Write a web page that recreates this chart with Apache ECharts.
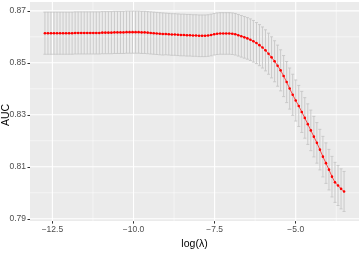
<!DOCTYPE html>
<html><head><meta charset="utf-8">
<script src="https://cdn.jsdelivr.net/npm/echarts@6/dist/echarts.min.js"></script>
<style>html,body{margin:0;padding:0;background:#fff}#c{width:363px;height:255px}</style>
</head><body><div id="c"></div>
<script>
const logLambda = [-12.730,-12.637,-12.544,-12.451,-12.357,-12.264,-12.171,-12.078,-11.985,-11.892,
-11.799,-11.706,-11.612,-11.519,-11.426,-11.333,-11.240,-11.147,-11.054,-10.961,
-10.867,-10.774,-10.681,-10.588,-10.495,-10.402,-10.309,-10.215,-10.122,-10.029,
-9.936,-9.843,-9.750,-9.657,-9.564,-9.470,-9.377,-9.284,-9.191,-9.098,
-9.005,-8.912,-8.819,-8.725,-8.632,-8.539,-8.446,-8.353,-8.260,-8.167,
-8.074,-7.980,-7.887,-7.794,-7.701,-7.608,-7.515,-7.422,-7.328,-7.235,
-7.142,-7.049,-6.956,-6.863,-6.770,-6.677,-6.583,-6.490,-6.397,-6.304,
-6.211,-6.118,-6.025,-5.932,-5.838,-5.745,-5.652,-5.559,-5.466,-5.373,
-5.280,-5.187,-5.093,-5.000,-4.907,-4.814,-4.721,-4.628,-4.535,-4.441,
-4.348,-4.255,-4.162,-4.069,-3.976,-3.883,-3.790,-3.696,-3.603,-3.510];
const meanAUC = [0.8614,0.8614,0.8614,0.8614,0.8614,0.8614,0.8614,0.8614,0.8614,0.8614,
0.8615,0.8615,0.8615,0.8615,0.8615,0.8615,0.8615,0.8615,0.8615,0.8616,
0.8616,0.8616,0.8616,0.8617,0.8617,0.8617,0.8617,0.8618,0.8618,0.8618,
0.8618,0.8618,0.8617,0.8617,0.8616,0.8615,0.8614,0.8613,0.8612,0.8611,
0.8611,0.8610,0.8609,0.8609,0.8608,0.8607,0.8607,0.8606,0.8606,0.8605,
0.8605,0.8604,0.8604,0.8604,0.8605,0.8607,0.8610,0.8612,0.8613,0.8613,
0.8613,0.8613,0.8612,0.8610,0.8606,0.8602,0.8598,0.8594,0.8589,0.8583,
0.8576,0.8568,0.8559,0.8548,0.8535,0.8521,0.8506,0.8489,0.8471,0.8449,
0.8426,0.8401,0.8377,0.8355,0.8334,0.8311,0.8288,0.8264,0.8240,0.8216,
0.8192,0.8166,0.8139,0.8114,0.8089,0.8062,0.8040,0.8028,0.8015,0.8005];
const seAUC = [0.0081,0.0081,0.0081,0.0081,0.0081,0.0081,0.0081,0.0081,0.0081,0.0081,
0.0081,0.0081,0.0081,0.0081,0.0081,0.0081,0.0081,0.0081,0.0081,0.0081,
0.0081,0.0081,0.0081,0.0081,0.0081,0.0081,0.0081,0.0081,0.0081,0.0081,
0.0081,0.0081,0.0081,0.0081,0.0081,0.0081,0.0081,0.0081,0.0081,0.0081,
0.0080,0.0080,0.0080,0.0080,0.0080,0.0080,0.0080,0.0080,0.0080,0.0080,
0.0080,0.0080,0.0080,0.0080,0.0080,0.0080,0.0080,0.0080,0.0080,0.0080,
0.0080,0.0080,0.0080,0.0080,0.0080,0.0080,0.0080,0.0080,0.0080,0.0080,
0.0079,0.0079,0.0079,0.0079,0.0079,0.0079,0.0079,0.0079,0.0079,0.0079,
0.0079,0.0079,0.0079,0.0079,0.0079,0.0079,0.0078,0.0078,0.0078,0.0078,
0.0078,0.0078,0.0078,0.0078,0.0078,0.0078,0.0077,0.0077,0.0077,0.0077];
const xTicks = [-12.5, -10.0, -7.5, -5.0];
const xTickLabels = ['\u221212.5', '\u221210.0', '\u22127.5', '\u22125.0'];
const xMinor = [-11.25, -8.75, -6.25, -3.75];
const yTicks = [0.79, 0.81, 0.83, 0.85, 0.87];
const yTickLabels = ['0.79', '0.81', '0.83', '0.85', '0.87'];
const yMinor = [0.80, 0.82, 0.84, 0.86];
const xTitle = 'log(\u03bb)';
const yTitle = 'AUC';

const X_MIN = -13.19, X_MAX = -3.05, Y_MIN = 0.7891, Y_MAX = 0.8734;

const gridLines = [];
xMinor.forEach(v => gridLines.push([0, v, 0]));
yMinor.forEach(v => gridLines.push([1, v, 0]));
xTicks.forEach(v => gridLines.push([0, v, 1]));
yTicks.forEach(v => gridLines.push([1, v, 1]));

const errData = logLambda.map((x, i) => [x, meanAUC[i] - seAUC[i], meanAUC[i] + seAUC[i]]);
const meanData = logLambda.map((x, i) => [x, meanAUC[i]]);

const chart = echarts.init(document.getElementById('c'), null, {renderer: 'canvas'});
const lblX = {};
xTicks.forEach((v, i) => lblX[v.toFixed(2)] = xTickLabels[i]);
const lblY = {};
yTicks.forEach((v, i) => lblY[v.toFixed(2)] = yTickLabels[i]);

chart.setOption({
  animation: false,
  backgroundColor: '#ffffff',
  textStyle: {fontFamily: 'Liberation Sans, Arial, sans-serif'},
  grid: {left: 30, right: 4, top: 2, bottom: 27, show: true, backgroundColor: '#EBEBEB', borderWidth: 0},
  graphic: [{
    type: 'text', x: 6.5, y: 115, rotation: Math.PI / 2, silent: true,
    style: {text: yTitle, fill: '#000000', fontSize: 10.5, fontFamily: 'Liberation Sans, Arial, sans-serif', align: 'center', verticalAlign: 'middle'}
  }],
  xAxis: {
    type: 'value', min: X_MIN, max: X_MAX,
    axisLine: {show: false},
    splitLine: {show: false},
    axisTick: {show: true, customValues: xTicks, length: 2.5, lineStyle: {color: '#333333', width: 1}},
    axisLabel: {customValues: xTicks, formatter: v => lblX[v.toFixed(2)] || '', color: '#4D4D4D', fontSize: 8.5, margin: 4},
    name: xTitle, nameLocation: 'middle', nameGap: 11,
    nameTextStyle: {color: '#000000', fontSize: 10.5, verticalAlign: 'top'}
  },
  yAxis: {
    type: 'value', min: Y_MIN, max: Y_MAX,
    axisLine: {show: false},
    splitLine: {show: false},
    axisTick: {show: true, customValues: yTicks, length: 2.5, lineStyle: {color: '#333333', width: 1}},
    axisLabel: {customValues: yTicks, formatter: v => lblY[v.toFixed(2)] || '', color: '#4D4D4D', fontSize: 8.5, margin: 4}
  },
  series: [
    {
      type: 'custom', silent: true, z: 1,
      data: gridLines,
      encode: {x: 1, y: 1},
      renderItem: function (params, api) {
        const cs = params.coordSys;
        const dir = api.value(0), v = api.value(1), major = api.value(2);
        let shape;
        if (dir === 0) {
          const p = api.coord([v, Y_MIN]);
          shape = {x1: p[0], y1: cs.y, x2: p[0], y2: cs.y + cs.height};
        } else {
          const p = api.coord([X_MIN, v]);
          shape = {x1: cs.x, y1: p[1], x2: cs.x + cs.width, y2: p[1]};
        }
        return {type: 'line', shape: shape, style: {stroke: '#FFFFFF', lineWidth: major ? 1.1 : 0.5}};
      }
    },
    {
      type: 'custom', silent: true, z: 2,
      data: errData,
      encode: {x: 0, y: [1, 2]},
      renderItem: function (params, api) {
        const x = api.value(0);
        const lo = api.coord([x, api.value(1)]);
        const hi = api.coord([x, api.value(2)]);
        const w = 1.5;
        const st = {stroke: '#C6C6C6', lineWidth: 0.9};
        return {type: 'group', children: [
          {type: 'line', shape: {x1: lo[0], y1: lo[1], x2: hi[0], y2: hi[1]}, style: st},
          {type: 'line', shape: {x1: hi[0] - w, y1: hi[1], x2: hi[0] + w, y2: hi[1]}, style: st},
          {type: 'line', shape: {x1: lo[0] - w, y1: lo[1], x2: lo[0] + w, y2: lo[1]}, style: st}
        ]};
      }
    },
    {
      type: 'line', z: 3, silent: true,
      data: meanData,
      symbol: 'circle', symbolSize: 2.6,
      itemStyle: {color: '#FF0000'},
      lineStyle: {color: '#FF0000', width: 0.7}
    }
  ]
});
</script></body></html>
